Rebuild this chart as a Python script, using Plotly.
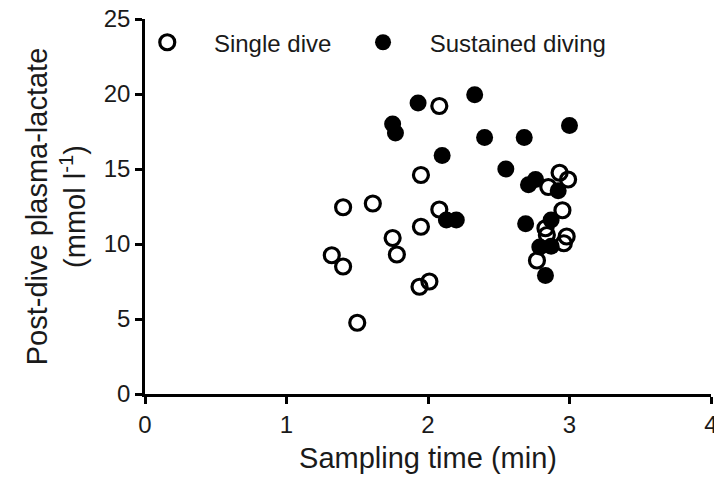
import plotly.graph_objects as go

# Single dive (open circles)
single_x = [1.32, 1.40, 1.50, 1.40, 1.61, 1.75, 1.78, 1.94, 2.01, 1.95, 1.95, 2.08, 2.08,
            2.93, 2.99, 2.85, 2.95, 2.83, 2.84, 2.98, 2.96, 2.77]
single_y = [9.25, 8.5, 4.75, 12.45, 12.7, 10.4, 9.3, 7.15, 7.5, 11.15, 14.6, 19.2, 12.3,
            14.75, 14.3, 13.8, 12.25, 11.05, 10.6, 10.5, 10.05, 8.9]

# Sustained diving (filled circles)
sustained_x = [1.93, 1.75, 1.77, 2.10, 2.13, 2.20, 2.33, 2.40, 2.68, 3.00, 2.55,
               2.76, 2.71, 2.92, 2.87, 2.69, 2.79, 2.87, 2.83]
sustained_y = [19.4, 18.0, 17.4, 15.9, 11.6, 11.6, 19.95, 17.1, 17.1, 17.9, 15.0,
               14.3, 13.95, 13.55, 11.6, 11.35, 9.8, 9.85, 7.9]

x_ticks = [0, 1, 2, 3, 4]
y_ticks = [0, 5, 10, 15, 20, 25]

FONT = "Liberation Sans, Arial, sans-serif"
NB = "\u00a0"

fig = go.Figure()
fig.add_trace(go.Scatter(
    x=single_x, y=single_y, mode="markers", name=NB * 4 + "Single dive" + NB * 4,
    marker=dict(symbol="circle-open", size=15, color="black", line=dict(width=3.2, color="black")),
))
fig.add_trace(go.Scatter(
    x=sustained_x, y=sustained_y, mode="markers", name=NB * 4 + "Sustained diving",
    marker=dict(symbol="circle", size=17, color="black", line=dict(width=0)),
))

axis_common = dict(
    showline=True, linecolor="black", linewidth=2.5,
    ticks="outside", ticklen=7, tickwidth=2.5, tickcolor="black",
    showgrid=False, zeroline=False, mirror=False, automargin=False,
    ticklabeloverflow="allow",
    tickfont=dict(family=FONT, size=24, color="#1a1a1a"),
)

fig.update_layout(
    width=714, height=486,
    margin=dict(l=145, r=3, t=19, b=92, autoexpand=False),
    paper_bgcolor="white", plot_bgcolor="white",
    font=dict(family=FONT, color="#1a1a1a"),
    xaxis=dict(
        range=[0, 4], tickvals=x_ticks, ticktext=[str(v) for v in x_ticks],
        title=dict(text="Sampling time (min)", font=dict(family=FONT, size=29, color="#1a1a1a"), standoff=12),
        **axis_common,
    ),
    yaxis=dict(
        range=[0, 25], tickvals=y_ticks, ticktext=[str(v) for v in y_ticks],
        title=dict(text="Post-dive plasma-lactate<br>(mmol l<sup>-1</sup>)",
                   font=dict(family=FONT, size=29, color="#1a1a1a"), standoff=10),
        **axis_common,
    ),
    legend=dict(
        orientation="h", x=0.004, y=0.997, xanchor="left", yanchor="top",
        font=dict(family=FONT, size=24, color="#1a1a1a"),
        bgcolor="rgba(0,0,0,0)", itemwidth=30, tracegroupgap=0,
    ),
    showlegend=True,
)

fig.write_html(
    "out.html",
    config={"displayModeBar": False},
    post_script="document.body.style.margin='0';document.body.style.overflow='hidden';",
)
